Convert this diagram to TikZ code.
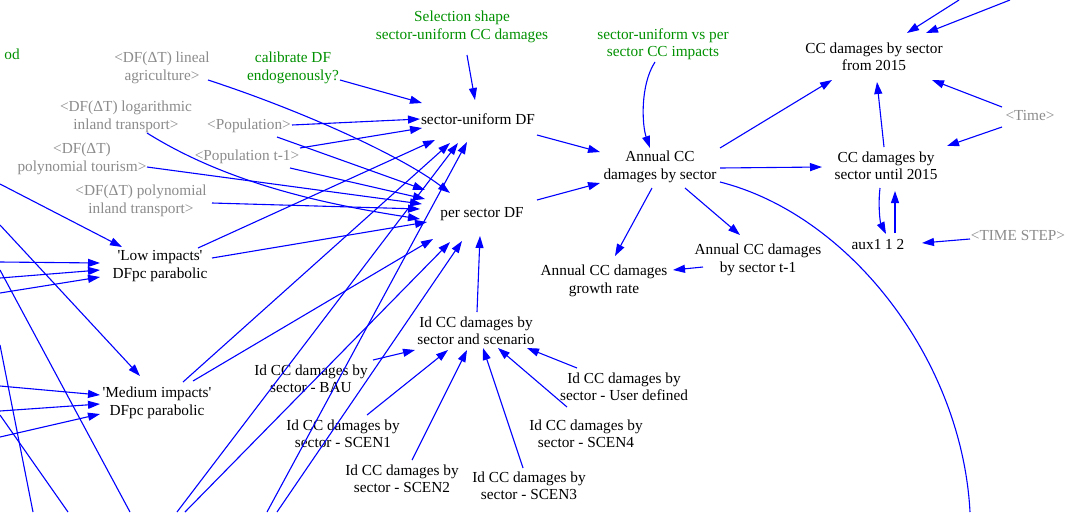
\documentclass[tikz,border=0pt]{standalone}
\usepackage{fontspec}
\newfontfamily\vs{Liberation Serif}
\usetikzlibrary{arrows.meta}
\definecolor{vblue}{RGB}{0,0,255}
\definecolor{vgrey}{RGB}{140,140,140}
\definecolor{vgreen}{RGB}{0,145,0}
\begin{document}
\begin{tikzpicture}[x=1pt,y=-1pt,
  var/.style={font={\vs\fontsize{15.3}{17.5}\selectfont},align=center,inner sep=0pt},
  shadow/.style={var,text=vgrey},
  ctrl/.style={var,text=vgreen},
  arr/.style={draw=vblue,line width=1.1pt,-{Triangle[length=12pt,width=8pt]}},
  wire/.style={draw=vblue,line width=1.1pt}]
\useasboundingbox[fill=white] (0,0) rectangle (1070,512);
% nodes
\node[ctrl,anchor=east] (od) at (20,54) {od};
\node[ctrl] (sel) at (462,27) {Selection shape\\sector-uniform CC damages};
\node[ctrl] (svp) at (663,44) {sector-uniform vs per\\sector CC impacts};
\node[var] (f2015) at (874,57) {CC damages by sector\\from 2015};
\node[shadow] (lineal) at (162,68) {<DF(ΔT) lineal\\agriculture>};
\node[ctrl] (calib) at (293,68) {calibrate DF\\endogenously?};
\node[shadow] (logit) at (126,117) {<DF(ΔT) logarithmic\\inland transport>};
\node[shadow] (pop) at (249,126) {<Population>};
\node[var] (su) at (478,119) {sector-uniform DF};
\node[shadow] (tour) at (82,159) {<DF(ΔT)\\polynomial tourism>};
\node[shadow] (popt1) at (247,157) {<Population t-1>};
\node[shadow] (polyin) at (141,201) {<DF(ΔT) polynomial\\inland transport>};
\node[var] (annual) at (660,167) {Annual CC\\damages by sector};
\node[shadow] (time) at (1030,116) {<Time>};
\node[var] (until) at (886,166) {CC damages by\\sector until 2015};
\node[var] (ps) at (482,214) {per sector DF};
\node[var] (low) at (160,266) {\char"27 Low impacts\char"27\\DFpc parabolic};
\node[var] (aux) at (878,245) {aux1 1 2};
\node[shadow] (tstep) at (1018,236) {<TIME STEP>};
\node[var] (tm1) at (758,260) {Annual CC damages\\by sector t-1};
\node[var] (growth) at (604,281) {Annual CC damages\\growth rate};
\node[var] (idscen) at (476,331) {Id CC damages by\\sector and scenario};
\node[var] (bau) at (311,379) {Id CC damages by\\sector - BAU};
\node[var] (user) at (624,387) {Id CC damages by\\sector - User defined};
\node[var] (medium) at (157,403) {\char"27 Medium impacts\char"27\\DFpc parabolic};
\node[var] (scen1) at (343,434) {Id CC damages by\\sector - SCEN1};
\node[var] (scen4) at (586,434) {Id CC damages by\\sector - SCEN4};
\node[var] (scen2) at (402,479) {Id CC damages by\\sector - SCEN2};
\node[var] (scen3) at (529,486) {Id CC damages by\\sector - SCEN3};
% free ends
\coordinate (ctop1) at (959,0);
\coordinate (ctop2) at (1010,0);
\coordinate (cbot) at (970,512);
\coordinate (cb1) at (177,512);
\coordinate (cb2) at (185,512);
\coordinate (cb3) at (267,512);
\coordinate (cb4) at (277,512);
\coordinate (cl1) at (0,184);
\coordinate (cl2) at (0,262);
\coordinate (cl3) at (0,278);
\coordinate (cl4) at (0,293);
\coordinate (cl5) at (0,225);
\coordinate (cl6) at (0,386);
\coordinate (cl7) at (0,411);
\coordinate (cl8) at (0,437);
\coordinate (cl9) at (0,270);
\coordinate (cl10) at (0,345);
\coordinate (cl11) at (0,415);
\coordinate (cd9) at (130,512);
\coordinate (cd10) at (33,512);
\coordinate (cd11) at (68,512);
% right part
\draw[arr] (ctop1) -- ([shift={(33,-24)}]f2015.center);
\draw[arr] (ctop2) -- ([shift={(52,-24)}]f2015.center);
\draw[arr] ([shift={(60,-19)}]annual.center) -- ([shift={(-42,23)}]f2015.center);
\draw[arr] ([shift={(-2,-19)}]until.center) -- ([shift={(3,25)}]f2015.center);
\draw[arr] ([shift={(-28,-9)}]time.center) -- ([shift={(58,23)}]f2015.center);
\draw[arr] ([shift={(-28,11)}]time.center) -- ([shift={(61,-20)}]until.center);
\draw[arr] ([shift={(60,1)}]annual.center) -- ([shift={(-64,1)}]until.center);
\draw[arr] ([shift={(-6,22)}]until.center) .. controls (878,205) and (880,222) .. ([shift={(8,-11)}]aux.center);
\draw[arr] ([shift={(17,-12)}]aux.center) -- ([shift={(9,25)}]until.center);
\draw[arr] ([shift={(-48,3)}]tstep.center) -- ([shift={(44,-2)}]aux.center);
\draw[wire] ([shift={(60,15)}]annual.center) .. controls (850,215) and (962,360) .. (cbot);
% middle
\draw[arr] ([shift={(5,28)}]sel.center) -- ([shift={(-3,-19)}]su.center);
\draw[arr] ([shift={(-8,18)}]svp.center) .. controls (640,85) and (642,125) .. ([shift={(-10,-19)}]annual.center);
\draw[arr] ([shift={(59,16)}]su.center) -- ([shift={(-60,-15)}]annual.center);
\draw[arr] ([shift={(55,-14)}]ps.center) -- ([shift={(-60,16)}]annual.center);
\draw[arr] ([shift={(-8,21)}]annual.center) -- ([shift={(11,-25)}]growth.center);
\draw[arr] ([shift={(25,21)}]annual.center) -- ([shift={(-18,-25)}]tm1.center);
\draw[arr] ([shift={(-55,7)}]tm1.center) -- ([shift={(69,-11)}]growth.center);
\draw[arr] ([shift={(1,-19)}]idscen.center) -- ([shift={(-2,22)}]ps.center);
% inputs to DF
\draw[arr] ([shift={(47,12)}]calib.center) -- ([shift={(-56,-16)}]su.center);
\draw[arr] ([shift={(46,12)}]lineal.center) .. controls (300,110) and (400,155) .. ([shift={(-32,-21)}]ps.center);
\draw[arr] ([shift={(43,-1)}]pop.center) -- ([shift={(-58,0)}]su.center);
\draw[arr] ([shift={(28,11)}]pop.center) -- ([shift={(-57,-24)}]ps.center);
\draw[arr] ([shift={(53,-9)}]popt1.center) -- ([shift={(-56,9)}]su.center);
\draw[arr] ([shift={(43,11)}]popt1.center) -- ([shift={(-57,-15)}]ps.center);
\draw[arr] ([shift={(21,16)}]logit.center) .. controls (230,185) and (330,205) .. ([shift={(-62,5)}]ps.center);
\draw[arr] ([shift={(65,8)}]tour.center) -- ([shift={(-60,-10)}]ps.center);
\draw[arr] ([shift={(71,2)}]polyin.center) -- ([shift={(-62,-5)}]ps.center);
\draw[arr] ([shift={(38,-18)}]low.center) -- ([shift={(-43,21)}]su.center);
\draw[arr] ([shift={(52,-8)}]low.center) -- ([shift={(-55,8)}]ps.center);
\draw[arr] ([shift={(26,-21)}]medium.center) -- ([shift={(-28,24)}]su.center);
\draw[arr] ([shift={(36,-22)}]medium.center) -- ([shift={(-49,25)}]ps.center);
\draw[arr] (cb1) -- ([shift={(-20,24)}]su.center);
\draw[arr] (cb2) -- ([shift={(-32,28)}]ps.center);
\draw[arr] (cb3) -- ([shift={(-11,23)}]su.center);
\draw[arr] (cb4) -- ([shift={(-20,27)}]ps.center);
% left edge
\draw[arr] (cl1) -- ([shift={(-38,-19)}]low.center);
\draw[arr] (cl2) -- ([shift={(-60,-3)}]low.center);
\draw[arr] (cl3) -- ([shift={(-60,4)}]low.center);
\draw[arr] (cl4) -- ([shift={(-60,11)}]low.center);
\draw[arr] (cl5) -- ([shift={(-17,-27)}]medium.center);
\draw[arr] (cl6) -- ([shift={(-57,-8)}]medium.center);
\draw[arr] (cl7) -- ([shift={(-57,1)}]medium.center);
\draw[arr] (cl8) -- ([shift={(-57,11)}]medium.center);
\draw[wire] (cl9) -- (cd9);
\draw[wire] (cl10) -- (cd10);
\draw[wire] (cl11) -- (cd11);
% scenarios
\draw[arr] ([shift={(62,-19)}]bau.center) -- ([shift={(-61,19)}]idscen.center);
\draw[arr] ([shift={(24,-19)}]scen1.center) -- ([shift={(-28,19)}]idscen.center);
\draw[arr] ([shift={(10,-19)}]scen2.center) -- ([shift={(-9,19)}]idscen.center);
\draw[arr] ([shift={(-6,-18)}]scen3.center) -- ([shift={(7,17)}]idscen.center);
\draw[arr] ([shift={(-19,-27)}]scen4.center) -- ([shift={(22,17)}]idscen.center);
\draw[arr] ([shift={(-47,-19)}]user.center) -- ([shift={(51,17)}]idscen.center);
\end{tikzpicture}
\end{document}
